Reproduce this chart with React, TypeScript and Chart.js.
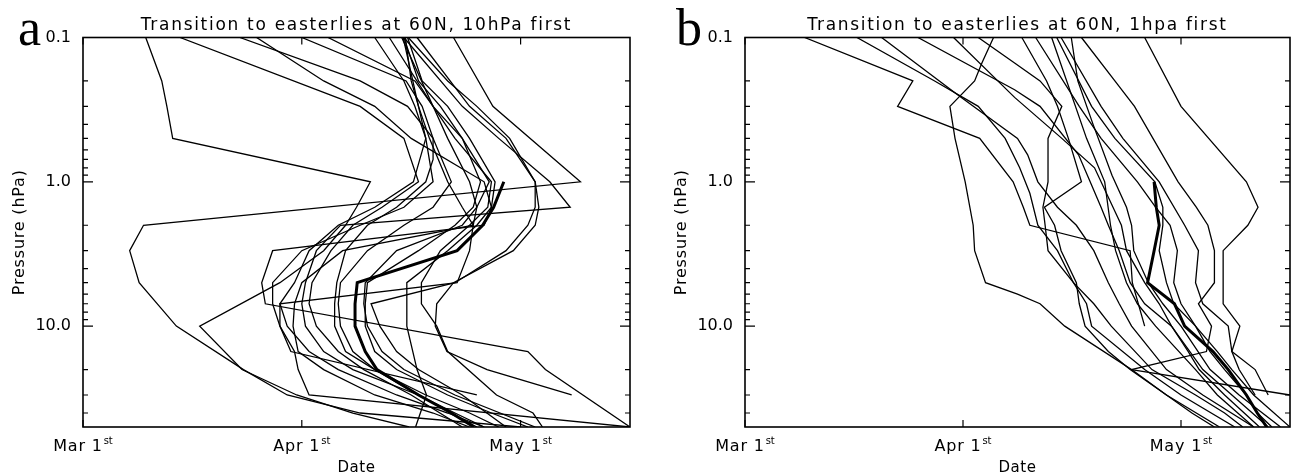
import React, { useEffect, useRef } from "react";
import { Chart, registerables } from "chart.js";

Chart.register(...registerables);

// [pressure (hPa), days after 1 March]
type Pt = [number, number];

const X_MIN = 0;
const X_MAX = 75;
const Y_MIN = 0.1;
const Y_MAX = 50;
const X_TICK_DAYS = [0, 30, 60];
const X_TICK_MAIN = ["Mar 1", "Apr 1", "May 1"];
const X_TICK_SUP = ["st", "st", "st"];
const Y_TICKS = [0.1, 1, 10];
const Y_TICK_LABELS = ["0.1", "1.0", "10.0"];
const Y_MINOR_TICKS = [0.2, 0.3, 0.4, 0.5, 0.6, 0.7, 0.8, 0.9, 2, 3, 4, 5, 6, 7, 8, 9, 20, 30, 40];

const TITLE_A = "Transition to easterlies at 60N, 10hPa first";
const TITLE_B = "Transition to easterlies at 60N, 1hpa first";
const Y_TITLE = "Pressure (hPa)";
const X_TITLE = "Date";

// ---------- Panel a ----------
const A_MEAN: Pt[] = [[1, 57.7], [1.5, 56.3], [2, 54.8], [3, 51.3], [5, 37.6], [7, 37.3], [10, 37.3], [15, 38.7], [20, 40.3], [30, 46], [40, 50.5], [50, 53.6]];
const A01: Pt[] = [[0.1, 8.6], [0.2, 10.8], [0.3, 11.5], [0.5, 12.3], [1, 39.4], [1.5, 37.5], [2, 36], [3, 33], [5, 27], [10, 16], [20, 21.8], [30, 29.3], [40, 37], [50, 44.7]];
const A02: Pt[] = [[0.1, 50.8], [0.3, 56.2], [1, 68.2], [2, 8.3], [3, 6.4], [5, 7.7], [10, 12.8], [20, 22], [30, 28], [40, 38], [50, 60]];
const A03: Pt[] = [[0.1, 44], [0.3, 52], [0.5, 57], [1, 64], [1.5, 66.8], [2, 35.3], [3, 32], [5, 30.5], [7, 30], [10, 30.5], [15, 33], [20, 37], [30, 46], [50, 54]];
const A04: Pt[] = [[0.1, 13.3], [0.3, 38], [0.5, 44], [1, 46], [1.5, 41], [2, 37], [3, 34], [5, 31.4], [7, 31], [10, 32], [15, 35], [20, 38.5], [30, 45], [50, 52]];
const A05: Pt[] = [[0.1, 21.5], [0.2, 38], [0.3, 44.5], [0.5, 48], [1, 50.5], [1.5, 48], [2, 44], [3, 39], [5, 35.3], [7, 35], [10, 35.3], [15, 37], [20, 40], [30, 47], [40, 53], [50, 57]];
const A06: Pt[] = [[0.1, 23.8], [0.2, 33], [0.3, 40], [0.5, 45], [1, 55], [1.5, 56], [2, 55], [3, 26], [5, 24.5], [7, 25], [15, 61], [20, 63.4], [50, 75]];
const A07: Pt[] = [[0.1, 30], [0.2, 44.3], [0.3, 46.5], [0.5, 48], [0.7, 48], [1, 47], [1.5, 43], [2, 39], [3, 36], [5, 34.8], [7, 34.5], [10, 34.5], [15, 36], [20, 40], [30, 46], [40, 51], [50, 55]];
const A08: Pt[] = [[0.1, 33.6], [0.2, 45.5], [0.3, 48], [0.5, 50], [1, 53], [1.5, 54], [2, 53.5], [3, 35.6], [5, 30], [7, 29], [10, 28.8], [15, 29.5], [20, 33], [30, 40], [40, 48], [50, 53]];
const A09: Pt[] = [[0.1, 40], [0.2, 44], [0.3, 45.5], [0.5, 47], [1, 45.3], [1.5, 40], [2, 35], [3, 31], [5, 29], [7, 27], [10, 27], [15, 28.5], [30, 54]];
const A10: Pt[] = [[0.1, 43.7], [0.3, 48], [0.5, 51], [1, 56], [1.5, 55.5], [2, 53], [3, 49], [5, 46.4], [7, 46.4], [10, 48.5], [15, 50], [30, 56.7], [40, 61.7], [50, 63]];
const A11: Pt[] = [[0.1, 45.8], [0.3, 53], [0.5, 58], [1, 62], [1.5, 62.5], [2, 62], [3, 59], [5, 50.8], [7, 48.5], [10, 48.3], [15, 49.9], [20, 55.4], [30, 67]];
const A12: Pt[] = [[0.1, 44.5], [0.2, 46.5], [0.3, 50], [0.5, 53], [1, 56.5], [1.5, 56], [2, 54], [3, 50], [5, 44.4], [7, 44.4], [10, 44.4], [20, 45.8], [30, 47.1], [50, 45.6]];
const A13: Pt[] = [[0.1, 44], [0.2, 46], [0.3, 49], [0.5, 52], [1, 54.5], [1.5, 53.5], [2, 51], [3, 46], [5, 39], [7, 38.7], [10, 38.7], [15, 40], [20, 43], [30, 50], [40, 56], [50, 61]];
const A14: Pt[] = [[0.1, 42], [0.3, 48], [0.5, 52], [1, 55.7], [1.5, 54], [2, 52], [3, 43], [5, 38.7], [7, 38.5], [10, 39], [15, 41], [20, 44], [30, 51], [50, 62]];
const A15: Pt[] = [[0.1, 44.6], [0.2, 50], [0.3, 54], [0.5, 58.5], [1, 62], [1.5, 62], [2, 61], [3, 58], [5, 51], [7, 39.5], [10, 40.7], [15, 43], [20, 46], [30, 52], [50, 58]];
const A16: Pt[] = [[0.1, 43.9], [0.3, 46], [0.5, 47.5], [1, 50], [1.5, 52], [2, 53.5], [3, 53], [5, 51.3], [7, 27], [10, 28], [15, 31], [20, 35], [30, 43], [40, 50], [50, 55]];
const A17: Pt[] = [[0.1, 44.2], [0.2, 45], [0.3, 46], [0.5, 47], [1, 48], [1.5, 44], [2, 38], [3, 30], [5, 26], [7, 26], [10, 27], [15, 29], [20, 29.5], [30, 31], [50, 75]];
const PANEL_A_LINES: Pt[][] = [A01, A02, A03, A04, A05, A06, A07, A08, A09, A10, A11, A12, A13, A14, A15, A16, A17];

// ---------- Panel b ----------
const B_MEAN: Pt[] = [[1, 56.3], [1.5, 56.6], [2, 57], [3, 56.3], [5, 55.4], [7, 59.1], [10, 60.5], [15, 64.4], [20, 66.5], [30, 69], [40, 70.5], [50, 71.8]];
const B01: Pt[] = [[0.1, 8.2], [0.2, 23.1], [0.3, 21], [0.5, 32.3], [1, 36.9], [1.5, 38.3], [2, 39.2], [3, 53], [5, 53.3], [10, 55]];
const B02: Pt[] = [[0.1, 34.2], [0.15, 32.6], [0.2, 31.6], [0.3, 28.2], [0.5, 28.9], [1, 30.3], [2, 31.4], [3, 31.6], [5, 33.1], [6, 37.5], [7, 40.6], [10, 44], [20, 53.2], [30, 75]];
const B03: Pt[] = [[0.1, 46.3], [0.2, 50.9], [0.3, 53.6], [1, 59.6], [1.5, 62.1], [2, 63.7], [3, 64.6], [5, 64.6], [7, 62.4], [10, 64.2], [15, 63.5], [20, 53.2], [30, 58], [40, 61.5], [50, 64.6]];
const B04: Pt[] = [[0.1, 55], [0.3, 60], [1, 69], [1.5, 70.6], [2, 69.2], [3, 65.8], [7, 65.8], [10, 68.1], [15, 67], [20, 70.2], [30, 72]];
const B05: Pt[] = [[0.1, 32.1], [0.15, 37.1], [0.2, 40.6], [0.3, 43.6], [0.5, 41.7], [1, 41.7], [1.5, 41], [2, 41.3], [3, 41.7], [5, 45.2], [7, 47], [10, 47.7], [20, 55], [30, 60], [50, 67.4]];
const B06: Pt[] = [[0.1, 38.1], [0.2, 41.5], [0.3, 43], [0.5, 44.5], [1, 46.3], [1.5, 41.2], [2, 42.6], [3, 43.5], [5, 45.6], [7, 46], [10, 46.8], [15, 50], [20, 53], [30, 58], [50, 65.3]];
const B07: Pt[] = [[0.1, 15.4], [0.2, 26.1], [0.3, 32.1], [0.5, 35.8], [0.8, 37.8], [1.2, 39.2], [2, 40.3], [3, 43], [5, 45.2], [7, 48], [10, 50.4], [20, 56], [30, 62], [40, 66], [50, 68.5]];
const B08: Pt[] = [[0.1, 18.8], [0.25, 29.3], [0.5, 37.5], [0.65, 38.9], [1, 40.3], [1.5, 43], [2, 45.6], [3, 48], [5, 50], [7, 51.5], [10, 53.2], [20, 58], [30, 63], [50, 70]];
const B09: Pt[] = [[0.1, 23.8], [0.23, 37.1], [0.3, 40.6], [0.65, 45.9], [1, 47.5], [1.5, 49], [2, 50], [3, 51.5], [5, 53], [7, 55], [10, 58.7], [20, 63], [30, 67], [50, 72]];
const B10: Pt[] = [[0.1, 28.7], [0.26, 37.1], [0.5, 43.6], [0.8, 48.1], [1.6, 50.9], [2, 51.8], [3, 52.5], [5, 55], [7, 57], [10, 58.7], [15, 61], [20, 62.5], [30, 66], [50, 70.8]];
const B11: Pt[] = [[0.1, 42.2], [0.5, 47], [1, 49.5], [2, 50.3], [3, 51], [5, 52.5], [7, 54], [10, 56.5], [20, 62], [30, 65], [50, 70]];
const B12: Pt[] = [[0.1, 42.9], [0.3, 47.7], [0.5, 50.9], [1, 56.4], [1.5, 57.5], [2, 57.5], [3, 57], [5, 58], [7, 59], [10, 62], [15, 64], [20, 66], [30, 69], [40, 70.5], [50, 72.5]];
const B13: Pt[] = [[0.1, 44.9], [0.2, 45.8], [0.4, 47.9], [0.9, 50.5], [1.5, 52.5], [2, 53.2], [3, 53.5], [5, 55.5], [7, 57.5], [10, 60], [20, 64], [30, 68], [50, 73.7]];
const B14: Pt[] = [[0.1, 43.5], [0.3, 49], [0.5, 52], [1, 57], [2, 60.5], [3, 62.4], [5, 62], [7, 63], [10, 66.5], [15, 67], [20, 68], [30, 70.2]];
const B15: Pt[] = [[0.1, 40], [0.3, 46], [0.5, 49], [1, 54], [1.5, 56.5], [2, 58.5], [3, 59.5], [5, 59], [7, 60], [10, 62], [15, 65], [20, 67], [30, 70], [50, 75]];
const PANEL_B_LINES: Pt[][] = [B01, B02, B03, B04, B05, B06, B07, B08, B09, B10, B11, B12, B13, B14, B15];

const FONT = "'DejaVu Sans', sans-serif";

const decoPlugin = {
  id: "panelDeco",
  afterDraw(chart: any, _args: any, opts: any) {
    const { ctx, chartArea, scales } = chart;
    const { left, right, top, bottom } = chartArea;
    const xs = scales.x;
    const ys = scales.y;
    ctx.save();
    ctx.strokeStyle = "#000";
    ctx.lineWidth = 1.6;
    ctx.strokeRect(left, top, right - left, bottom - top);
    ctx.lineWidth = 1.2;
    ctx.beginPath();
    Y_TICKS.forEach((v) => {
      const py = ys.getPixelForValue(v);
      ctx.moveTo(left, py); ctx.lineTo(left + 10, py);
      ctx.moveTo(right, py); ctx.lineTo(right - 10, py);
    });
    Y_MINOR_TICKS.forEach((v) => {
      const py = ys.getPixelForValue(v);
      ctx.moveTo(left, py); ctx.lineTo(left + 5, py);
      ctx.moveTo(right, py); ctx.lineTo(right - 5, py);
    });
    X_TICK_DAYS.forEach((v) => {
      const px = xs.getPixelForValue(v);
      ctx.moveTo(px, bottom); ctx.lineTo(px, bottom - 7);
      ctx.moveTo(px, top); ctx.lineTo(px, top + 7);
    });
    ctx.stroke();

    ctx.fillStyle = "#000";
    ctx.textBaseline = "alphabetic";
    ctx.textAlign = "left";
    X_TICK_DAYS.forEach((v, i) => {
      const px = xs.getPixelForValue(v);
      ctx.font = `16px ${FONT}`;
      ctx.letterSpacing = "0.8px";
      const w1 = ctx.measureText(X_TICK_MAIN[i]).width;
      ctx.font = `10px ${FONT}`;
      ctx.letterSpacing = "0px";
      const w2 = ctx.measureText(X_TICK_SUP[i]).width;
      const x0 = px - (w1 + 1 + w2) / 2;
      ctx.font = `16px ${FONT}`;
      ctx.letterSpacing = "0.8px";
      ctx.fillText(X_TICK_MAIN[i], x0, 451);
      ctx.font = `10px ${FONT}`;
      ctx.letterSpacing = "0px";
      ctx.fillText(X_TICK_SUP[i], x0 + w1 + 1, 444);
    });

    ctx.textAlign = "center";
    ctx.font = `15px ${FONT}`;
    ctx.letterSpacing = "0.5px";
    ctx.fillText(X_TITLE, (left + right) / 2, 472);

    ctx.font = `17px ${FONT}`;
    ctx.letterSpacing = "1.7px";
    ctx.fillText(opts.title, (left + right) / 2, 29.5);

    ctx.save();
    ctx.translate(20, (top + bottom) / 2);
    ctx.rotate(-Math.PI / 2);
    ctx.font = `16px ${FONT}`;
    ctx.letterSpacing = "0.8px";
    ctx.textBaseline = "middle";
    ctx.fillText(Y_TITLE, 0, 0);
    ctx.restore();

    ctx.letterSpacing = "0px";
    ctx.textAlign = "left";
    ctx.textBaseline = "alphabetic";
    ctx.font = "52px 'Liberation Serif', serif";
    ctx.fillText(opts.letter, opts.letterX, 45);
    ctx.restore();
  },
};

function toDataset(line: Pt[], width: number) {
  return {
    data: line.map(([p, d]) => ({ x: d, y: p })),
    borderColor: "#000",
    backgroundColor: "#000",
    borderWidth: width,
    pointRadius: 0,
    fill: false,
    tension: 0,
  };
}

function Panel(props: { left: number; width: number; padRight: number; lines: Pt[][]; mean: Pt[]; title: string; letter: string; letterX: number }) {
  const ref = useRef<HTMLCanvasElement>(null);
  useEffect(() => {
    const canvas = ref.current;
    if (!canvas) return;
    const datasets = [...props.lines.map((l) => toDataset(l, 1.3)), toDataset(props.mean, 3)];
    const chart = new Chart(canvas, {
      type: "line",
      data: { datasets },
      plugins: [decoPlugin],
      options: {
        responsive: false,
        animation: false,
        devicePixelRatio: 1,
        events: [],
        layout: { padding: { left: 0, right: props.padRight, top: 37.5, bottom: 0 } },
        plugins: {
          legend: { display: false },
          tooltip: { enabled: false },
          title: { display: false },
          panelDeco: { title: props.title, letter: props.letter, letterX: props.letterX },
        } as any,
        scales: {
          x: {
            type: "linear",
            min: X_MIN,
            max: X_MAX,
            grid: { display: false },
            border: { display: false },
            ticks: { display: false },
            afterFit: (s: any) => { s.height = 49; },
          },
          y: {
            type: "logarithmic",
            reverse: true,
            min: Y_MIN,
            max: Y_MAX,
            grid: { display: false },
            border: { display: false },
            afterBuildTicks: (s: any) => { s.ticks = Y_TICKS.map((v) => ({ value: v })); },
            afterFit: (s: any) => { s.width = 83; },
            ticks: {
              autoSkip: false,
              padding: 4,
              color: "#000",
              font: { family: FONT, size: 16 },
              callback: (v: any) => {
                const i = Y_TICKS.indexOf(Number(v));
                return i >= 0 ? Y_TICK_LABELS[i] : "";
              },
            },
          },
        } as any,
      },
    } as any);
    return () => chart.destroy();
  }, []);
  return (
    <canvas
      ref={ref}
      width={props.width}
      height={476}
      style={{ position: "absolute", left: props.left, top: 0, width: props.width, height: 476, display: "block" }}
    />
  );
}

export default function App() {
  return (
    <div style={{ position: "absolute", left: 0, top: 0, width: 1294, height: 476, background: "#fff", overflow: "hidden" }}>
      <Panel left={0} width={640} padRight={10} lines={PANEL_A_LINES} mean={A_MEAN} title={TITLE_A} letter="a" letterX={18} />
      <Panel left={662} width={632} padRight={4} lines={PANEL_B_LINES} mean={B_MEAN} title={TITLE_B} letter="b" letterX={14} />
    </div>
  );
}
